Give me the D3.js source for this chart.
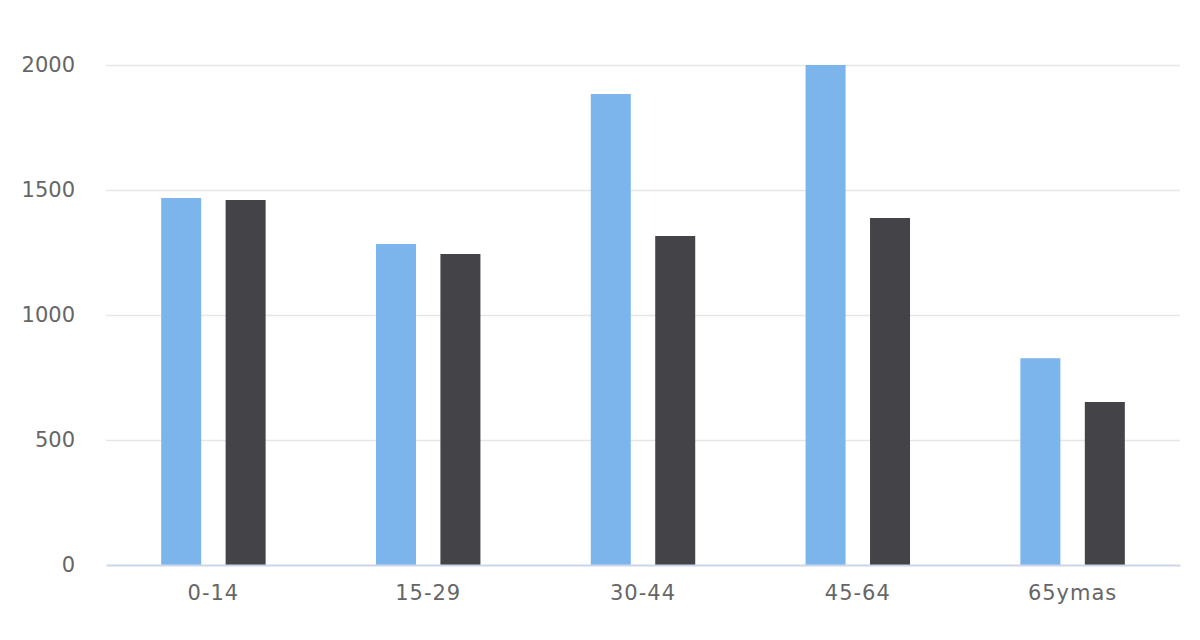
<!DOCTYPE html>
<html>
<head>
<meta charset="utf-8">
<script src="https://cdn.jsdelivr.net/npm/d3@7"></script>
<style>
  html, body { margin: 0; padding: 0; background: #fff; }
  text { font-family: "DejaVu Sans", sans-serif; }
</style>
</head>
<body>
<div id="chart"></div>

<script>
// age groups and the two series
var categories = ["0-14", "15-29", "30-44", "45-64", "65ymas"];
var series1 = [1468, 1284, 1884, 2000, 827];
var series2 = [1460, 1244, 1316, 1388, 652];
var yTicks = [0, 500, 1000, 1500, 2000];
var seriesNames = ["s1", "s2"];
var colors = ["#7cb5ec", "#434348"];

// set the dimensions and margins of the graph
const W = 1200, H = 640;
const margin = {top: 65, right: 20, bottom: 75, left: 106},
    width = W - margin.left - margin.right,
    height = H - margin.top - margin.bottom;

const svg = d3.select("#chart")
  .append("svg")
    .attr("width", W)
    .attr("height", H)
  .append("g")
    .attr("transform", `translate(${margin.left},${margin.top})`);

// scales
const x0 = d3.scaleBand()
  .domain(categories)
  .range([0, width])
  .padding(0);

const x1 = d3.scaleBand()
  .domain(seriesNames)
  .range([x0.bandwidth() * 0.2, x0.bandwidth() * 0.8])
  .padding(0);

const barW = 40;

const y = d3.scaleLinear()
  .domain([0, 2000])
  .range([height, 0]);

// grid lines
svg.append("g")
  .selectAll("line")
  .data(yTicks.filter(d => d > 0))
  .join("line")
    .attr("x1", 0)
    .attr("x2", width)
    .attr("y1", d => y(d) + 0.5)
    .attr("y2", d => y(d) + 0.5)
    .attr("stroke", "#e6e6e6")
    .attr("stroke-width", 1.5);

// Y axis labels
const yAxis = svg.append("g")
  .call(d3.axisLeft(y).tickValues(yTicks).tickFormat(d3.format("d")).tickSize(0).tickPadding(31));
yAxis.select(".domain").remove();
yAxis.selectAll("text")
  .attr("fill", "#666666")
  .style("font-size", "21px");

// bars
var rows = categories.map((c, i) => ({cat: c, vals: [series1[i], series2[i]]}));

svg.append("g")
  .selectAll("g")
  .data(rows)
  .join("g")
    .attr("transform", d => `translate(${x0(d.cat)},0)`)
  .selectAll("rect")
  .data(d => d.vals.map((v, j) => ({key: seriesNames[j], value: v, j: j})))
  .join("rect")
    .attr("x", d => x1(d.key) + (x1.bandwidth() - barW) / 2)
    .attr("width", barW)
    .attr("y", d => y(d.value))
    .attr("height", d => y(0) - y(d.value))
    .attr("fill", d => colors[d.j]);

// X axis
const xAxis = svg.append("g")
  .attr("transform", `translate(0, ${height})`)
  .call(d3.axisBottom(x0).tickSize(0).tickPadding(20));
xAxis.select(".domain")
  .attr("stroke", "#ccd6eb")
  .attr("stroke-width", 2);
xAxis.selectAll("text")
  .attr("fill", "#666666")
  .style("font-size", "21px")
  .style("letter-spacing", "1px");
</script>
</body>
</html>
